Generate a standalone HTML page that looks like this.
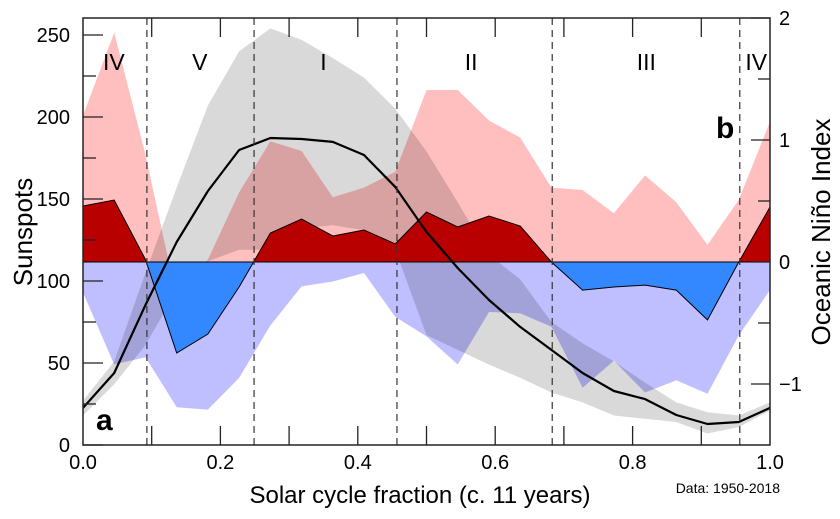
<!DOCTYPE html>
<html><head><meta charset="utf-8"><style>
html,body{margin:0;padding:0;background:#fff;}
svg{display:block;font-family:"Liberation Sans",sans-serif;}
</style></head><body>
<svg id="chart" width="840" height="519" viewBox="0 0 840 519" xmlns="http://www.w3.org/2000/svg">
<defs>
<clipPath id="above"><rect x="83" y="18" width="687" height="244"/></clipPath>
<clipPath id="below"><rect x="83" y="262" width="687" height="183"/></clipPath>
<clipPath id="plot"><rect x="83" y="18" width="687" height="427"/></clipPath>
</defs>
<g id="layers" clip-path="url(#plot)"></g>
<g id="axes"></g>
</svg>
<script>
const fractions = [0,1,2,3,4,5,6,7,8,9,10,11,12,13,14,15,16,17,18,19,20,21,22].map(i=>i/22);
const sunspotMean = [22.6,43.9,85.4,123.8,154.9,179.9,187.2,186.6,184.8,176.8,157.3,129.9,107.9,88.4,72,58,43.9,32.9,28,18.3,12.8,14,22.6];
const sunspotHigh = [27,51,105,157,207,240,254,247,236,224,205,179,148,116,101,75,62,51,38,26,20,18,26];
const sunspotLow = [18,37,61,94,112,119,119,132,134,131,119,67,58,49,41,32,26,18,16,14,7,11,21];
const oniMean = [0.459,0.508,0.02,-0.746,-0.59,-0.205,0.238,0.352,0.213,0.262,0.148,0.41,0.287,0.377,0.295,0,-0.23,-0.205,-0.189,-0.23,-0.475,0,0.451];
const oniHigh = [1.2,1.88,0.88,-0.3,0.02,0.57,0.99,0.91,0.53,0.61,0.74,1.41,1.41,1.16,1.02,0.61,0.59,0.4,0.71,0.49,0.14,0.51,1.15];
const oniLow = [-0.25,-0.84,-0.78,-1.19,-1.21,-0.95,-0.52,-0.2,-0.16,-0.09,-0.45,-0.61,-0.84,-0.41,-0.42,-0.53,-1.03,-0.81,-1.07,-0.97,-1.08,-0.6,-0.23];
const phaseBounds = [0.093,0.249,0.457,0.683,0.956];
const phaseLabels = [["IV",0.045],["V",0.17],["I",0.35],["II",0.565],["III",0.82],["IV",0.98]];
const leftTicks = [0,50,100,150,200,250];
const rightTicks = [-1,0,1,2];
const xTicks = [0,0.2,0.4,0.6,0.8,1.0];

const X0=83,X1=770,Y0=445,Y1=18;
const xs = f => X0 + f*(X1-X0);
const yL = v => 445 - v*1.64;
const yR = v => 262 - v*122;
const NS="http://www.w3.org/2000/svg";
const layers=document.getElementById('layers'), axes=document.getElementById('axes');
function mk(tag, attrs, parent){const e=document.createElementNS(NS,tag);for(const k in attrs)e.setAttribute(k,attrs[k]);parent.appendChild(e);return e;}
function pts(arr, yf){return arr.map((v,i)=>xs(fractions[i]).toFixed(1)+','+yf(v).toFixed(1));}
const base = yR(0);
const baseStart = xs(0)+','+base, baseEnd = xs(1)+','+base;

let p = mk('polygon',{points:[baseStart,...pts(oniHigh,yR),baseEnd].join(' '),fill:'#ffbfbf','clip-path':'url(#above)'},layers);


p = mk('polygon',{points:[baseStart,...pts(oniLow,yR),baseEnd].join(' '),fill:'#bfbfff','clip-path':'url(#below)'},layers);


p = mk('polygon',{points:[...pts(sunspotHigh,yL),...pts(sunspotLow,yL).reverse()].join(' '),fill:'rgba(0,0,0,0.15)'},layers);


const meanPoly=[baseStart,...pts(oniMean,yR),baseEnd].join(' ');
p = mk('polygon',{points:meanPoly,fill:'#b80000','clip-path':'url(#above)'},layers);


p = mk('polygon',{points:meanPoly,fill:'#3388ff','clip-path':'url(#below)'},layers);


p = mk('polyline',{points:pts(oniMean,yR).join(' '),fill:'none',stroke:'#000','stroke-width':1},layers);


p = mk('line',{x1:X0,x2:X1,y1:base,y2:base,stroke:'#000','stroke-width':1},layers);


p = mk('polyline',{points:pts(sunspotMean,yL).join(' '),fill:'none',stroke:'#000','stroke-width':2.2,'stroke-linejoin':'round'},layers);


phaseBounds.forEach(f=>{
  const l=mk('line',{x1:xs(f),x2:xs(f),y1:Y1,y2:Y0,stroke:'#333','stroke-width':1.2,'stroke-dasharray':'7,5'},layers);
  
  
});
phaseLabels.forEach(([t,f])=>{
  const e=mk('text',{x:xs(f),y:70,'font-size':23,'text-anchor':'middle',fill:'#000'},axes);e.textContent=t;
  
  
});
p=mk('rect',{x:X0,y:Y1,width:X1-X0,height:Y0-Y1,fill:'none',stroke:'#222','stroke-width':1.5},axes);


for(let v=0;v<=250;v+=25){const len=v%50===0?20:13;mk('line',{x1:X0,x2:X0+len,y1:yL(v),y2:yL(v),stroke:'#222','stroke-width':1.3},axes);}
leftTicks.forEach(v=>{const e=mk('text',{x:70,y:yL(v)+7,'font-size':20,'text-anchor':'end'},axes);e.textContent=v;
  
  });
for(let v=-1.5;v<=2;v+=0.5){if(v===-1.5)continue;const len=Number.isInteger(v)?19:12;mk('line',{x1:X1-len,x2:X1,y1:yR(v),y2:yR(v),stroke:'#222','stroke-width':1.3},axes);}
rightTicks.forEach(v=>{const e=mk('text',{x:779,y:yR(v)+7,'font-size':20},axes);e.textContent=v<0?'\u2212'+Math.abs(v):v;
  
  });
for(let i=1;i<10;i++){const x=xs(i/10);mk('line',{x1:x,x2:x,y1:Y0,y2:Y0-19,stroke:'#222','stroke-width':1.3},axes);mk('line',{x1:x,x2:x,y1:Y1,y2:Y1+19,stroke:'#222','stroke-width':1.3},axes);}
xTicks.forEach(v=>{const e=mk('text',{x:xs(v),y:469,'font-size':20,'text-anchor':'middle'},axes);e.textContent=v.toFixed(1);
  
  });
</script>
<svg style="position:absolute;left:0;top:0" width="840" height="519">
<text x="420" y="503" font-size="24" text-anchor="middle" font-family="Liberation Sans, sans-serif">Solar cycle fraction (c. 11 years)</text>
<text x="780" y="493" font-size="14" text-anchor="end" font-family="Liberation Sans, sans-serif">Data: 1950-2018</text>
<text transform="translate(32,232) rotate(-90)" font-size="26" text-anchor="middle" font-family="Liberation Sans, sans-serif">Sunspots</text>
<text transform="translate(830,232) rotate(-90)" font-size="26" text-anchor="middle" font-family="Liberation Sans, sans-serif">Oceanic Niño Index</text>
<text x="96" y="430" font-size="30" font-weight="bold" font-family="Liberation Sans, sans-serif">a</text>
<text x="716" y="138" font-size="30" font-weight="bold" font-family="Liberation Sans, sans-serif">b</text>
</svg>
</body></html>
